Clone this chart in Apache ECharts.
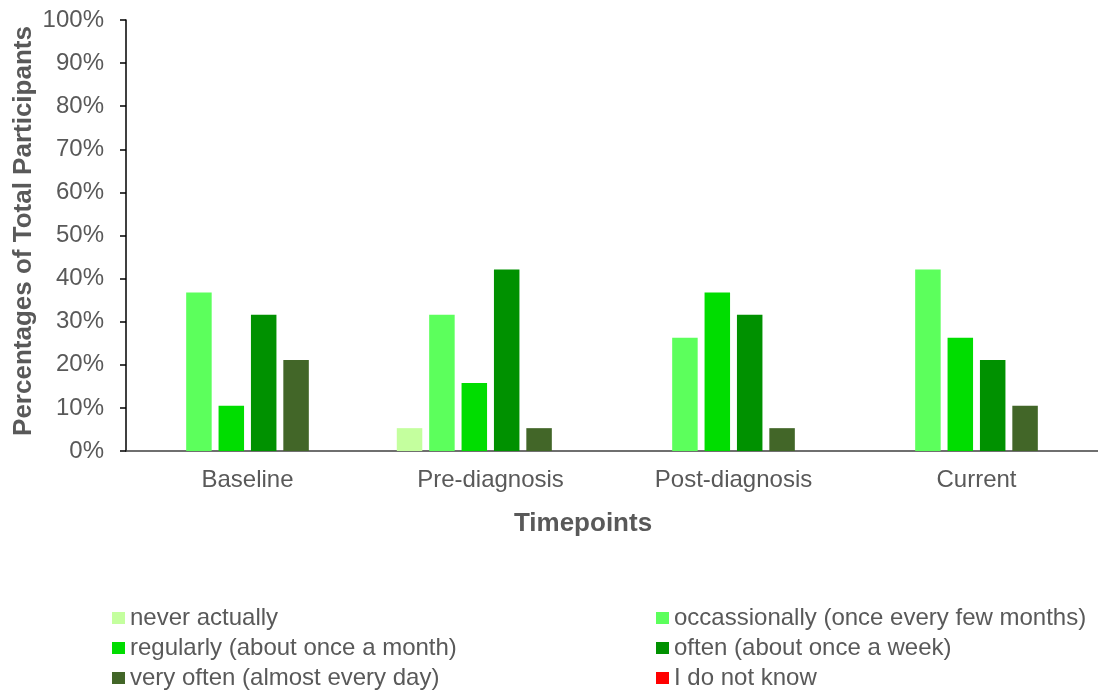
<!DOCTYPE html>
<html>
<head>
<meta charset="utf-8">
<script src="https://cdn.jsdelivr.net/npm/echarts@6/dist/echarts.min.js"></script>
<style>
  html, body { margin: 0; padding: 0; background: #fff; }
  #chart { width: 1098px; height: 693px; }
</style>
</head>
<body>
<div id="chart"></div>
<script>
// Timepoints along the x axis
const timepoints = ['Baseline', 'Pre-diagnosis', 'Post-diagnosis', 'Current'];

// Response frequency categories (legend order)
const responses = [
  'never actually',
  'occassionally (once every few months)',
  'regularly (about once a month)',
  'often (about once a week)',
  'very often (almost every day)',
  'I do not know'
];

// Percentage of participants per response, one value per timepoint
const neverActually = [0, 5.3, 0, 0];
const occasionally  = [36.8, 31.6, 26.3, 42.1];
const regularly     = [10.5, 15.8, 36.8, 26.3];
const often         = [31.6, 42.1, 31.6, 21.1];
const veryOften     = [21.1, 5.3, 5.3, 10.5];
const doNotKnow     = [0, 0, 0, 0];

const seriesValues = [neverActually, occasionally, regularly, often, veryOften, doNotKnow];
const colors = ['#C4FF9E', '#5CFF5C', '#00DD00', '#009100', '#426628', '#FF0000'];

const textColor = '#595959';
const fontFamily = 'Liberation Sans, Arial, sans-serif';

const chart = echarts.init(document.getElementById('chart'), null, { renderer: 'canvas' });

const series = responses.map((name, i) => ({
  name: name,
  type: 'bar',
  data: seriesValues[i],
  barWidth: 25.5,
  barGap: '27%',
  itemStyle: { color: colors[i] },
  emphasis: { disabled: true }
}));

// Two-column legend: each entry placed in its own row/column slot
const legendSlots = [
  { left: 112, top: 606 }, { left: 656, top: 606 },
  { left: 112, top: 636 }, { left: 656, top: 636 },
  { left: 112, top: 666 }, { left: 656, top: 666 }
];
const legends = responses.map((name, i) => ({
  data: [name],
  left: legendSlots[i].left,
  top: legendSlots[i].top,
  padding: 0,
  itemWidth: 13,
  itemHeight: 12,
  icon: 'rect',
  selectedMode: false,
  textStyle: { color: textColor, fontSize: 24, fontFamily: fontFamily, lineHeight: 24 }
}));

chart.setOption({
  animation: false,
  color: colors,
  grid: { left: 126, top: 20, width: 976, height: 431, containLabel: false },
  xAxis: {
    type: 'category',
    data: timepoints,
    axisLine: { show: true, lineStyle: { color: '#404040', width: 1.5 } },
    axisTick: { show: false },
    axisLabel: { color: textColor, fontSize: 24, fontFamily: fontFamily, margin: 17 }
  },
  yAxis: {
    type: 'value',
    min: 0,
    max: 100,
    interval: 10,
    axisLine: { show: true, lineStyle: { color: '#000', width: 1.5 } },
    axisTick: { show: true, length: 6, inside: false, lineStyle: { color: '#000', width: 1.5 } },
    splitLine: { show: false },
    axisLabel: { color: textColor, fontSize: 24, fontFamily: fontFamily, margin: 22, formatter: '{value}%' }
  },
  legend: legends,
  graphic: [
    {
      type: 'text',
      x: 583, y: 524,
      style: {
        text: 'Timepoints',
        textAlign: 'center', textVerticalAlign: 'middle',
        fill: textColor, font: 'bold 26px ' + fontFamily
      }
    },
    {
      type: 'text',
      x: 24, y: 231,
      rotation: Math.PI / 2,
      style: {
        text: 'Percentages of Total Participants',
        textAlign: 'center', textVerticalAlign: 'middle',
        fill: textColor, font: 'bold 26px ' + fontFamily
      }
    }
  ],
  series: series
});
</script>
</body>
</html>
